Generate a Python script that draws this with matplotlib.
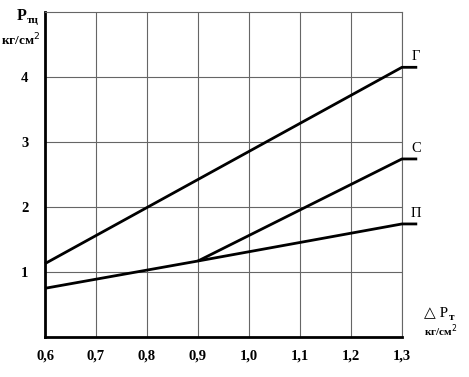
import matplotlib
matplotlib.use("Agg")
import matplotlib.pyplot as plt

# data
x_ticks = [0.6, 0.7, 0.8, 0.9, 1.0, 1.1, 1.2, 1.3]
x_labels = ["0,6", "0,7", "0,8", "0,9", "1,0", "1,1", "1,2", "1,3"]
y_ticks = [1, 2, 3, 4]

g_x = [0.6, 1.3, 1.33]
g_y = [1.13, 4.15, 4.15]
s_x = [0.9, 1.3, 1.33]
s_y = [1.17, 2.74, 2.74]
p_x = [0.6, 0.9, 1.3, 1.33]
p_y = [0.75, 1.17, 1.74, 1.74]
curve_names = ["Г", "С", "П"]

plt.rcParams['font.family'] = ['Liberation Serif', 'DejaVu Serif']

fig = plt.figure(figsize=(4.69, 3.77), dpi=100)
ax = fig.add_axes([0.096, 0.106, 0.761, 0.862])

ax.set_xlim(0.6, 1.3)
ax.set_ylim(0, 5)

# grid
for xv in x_ticks[1:]:
    ax.axvline(xv, color='0.4', lw=0.8, zorder=1)
for yv in y_ticks:
    ax.axhline(yv, color='0.4', lw=0.8, zorder=1)

ax.spines['left'].set_linewidth(2)
ax.spines['bottom'].set_linewidth(2)
ax.spines['top'].set_linewidth(0.8)
ax.spines['top'].set_color('0.4')
ax.spines['right'].set_linewidth(0.8)
ax.spines['right'].set_color('0.4')

ax.set_xticks(x_ticks)
ax.set_xticklabels(x_labels, fontweight='bold', fontsize=10.5)
ax.set_yticks(y_ticks)
ax.set_yticklabels([str(v) for v in y_ticks], fontweight='bold', fontsize=10.5)
ax.tick_params(length=0, pad=9)
ax.tick_params(axis='y', pad=12)

for xs, ys, name in zip([g_x, s_x, p_x], [g_y, s_y, p_y], curve_names):
    ax.plot(xs, ys, color='black', lw=2, clip_on=False, zorder=3,
            solid_capstyle='butt')
    ax.text(xs[-1] - 0.002, ys[-1] + 0.06, name, fontsize=10.5,
            ha='center', va='bottom')

# axis titles
fig.text(0.057, 0.958, "P", fontsize=11.5, fontweight='bold', ha='right', va='center')
fig.text(0.057, 0.945, "тц", fontsize=8, fontweight='bold', ha='left', va='center')
fig.text(0.002, 0.895, "кг/см$^2$", fontsize=9.5, fontweight='bold', ha='left', va='center')

fig.text(0.903, 0.17, "△ P", fontsize=11, ha='left', va='center')
fig.text(0.956, 0.158, "т", fontsize=8, fontweight='bold', ha='left', va='center')
fig.text(0.903, 0.122, "кг/см$^2$", fontsize=8, fontweight='bold', ha='left', va='center')

fig.savefig("out.png", dpi=100)
